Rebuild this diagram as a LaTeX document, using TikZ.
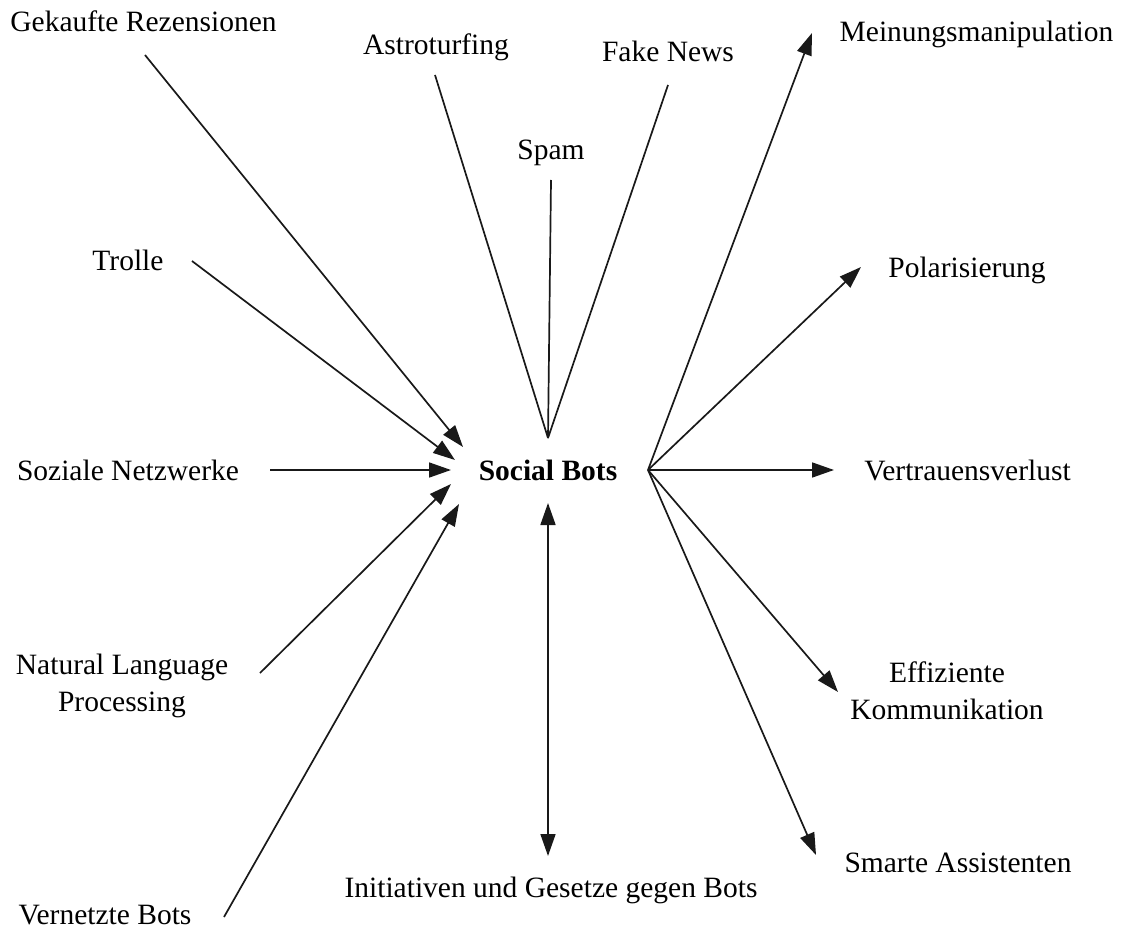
\documentclass[tikz,border=0pt]{standalone}
\usepackage{fontspec}
\setmainfont{Liberation Serif}
\usetikzlibrary{arrows.meta}
\begin{document}
\begin{tikzpicture}[x=1pt,y=-1pt,
  lbl/.style={inner sep=0pt, font=\fontsize{29.5}{37}\selectfont},
  ln/.style={line width=1.7pt, draw=black!90},
  arr/.style={ln, -{Triangle[length=22pt,width=15pt]}},
  darr/.style={ln, {Triangle[length=22pt,width=15pt]}-{Triangle[length=22pt,width=15pt]}}]
\useasboundingbox (0,0) rectangle (1131,933);
% labels
\node[lbl, anchor=base] (gk) at (143.5,32) {Gekaufte Rezensionen};
\node[lbl, anchor=base] (as) at (436,55) {Astroturfing};
\node[lbl, anchor=base] (fn) at (668,62) {Fake News};
\node[lbl, anchor=base] (sp) at (551,160) {Spam};
\node[lbl, anchor=base] (mm) at (976.5,42) {Meinungsmanipulation};
\node[lbl, anchor=base] (tr) at (128,270) {Trolle};
\node[lbl, anchor=base] (po) at (967,277) {Polarisierung};
\node[lbl, anchor=base] (sn) at (128,480) {Soziale Netzwerke};
\node[lbl, anchor=base, font=\fontsize{29.5}{37}\selectfont\bfseries] (sb) at (548,480) {Social Bots};
\node[lbl, anchor=base] (vv) at (967.5,480) {Vertrauensverlust};
\node[lbl, align=center] (nlp) at (122,686) {Natural Language\\Processing};
\node[lbl, align=center] (ek) at (947,691) {Effiziente\\Kommunikation};
\node[lbl, anchor=base] (sa) at (958,872) {Smarte Assistenten};
\node[lbl, anchor=base] (ig) at (551,897) {Initiativen und Gesetze gegen Bots};
\node[lbl, anchor=base] (vb) at (105,924) {Vernetzte Bots};
% connector end points
\coordinate (hubT) at (548,438);
\coordinate (hubR) at (648,470);
\coordinate (gkS) at (145,55);
\coordinate (gkE) at (463,447);
\coordinate (asS) at (435,75);
\coordinate (spS) at (551,180);
\coordinate (fnS) at (668,85);
\coordinate (trS) at (192,261);
\coordinate (trE) at (455,460);
\coordinate (snS) at (270,470);
\coordinate (snE) at (451,470);
\coordinate (nlpS) at (260,673);
\coordinate (nlpE) at (451,484);
\coordinate (vbS) at (224,917);
\coordinate (vbE) at (459,504);
\coordinate (igN) at (548,503);
\coordinate (igS) at (548,856);
\coordinate (mmE) at (812,33);
\coordinate (poE) at (861,267);
\coordinate (vvE) at (834,470);
\coordinate (ekE) at (838,692);
\coordinate (saE) at (816,855);
% connectors
\draw[arr] (gkS) -- (gkE);
\draw[ln] (asS) -- (hubT);
\draw[ln] (spS) -- (hubT);
\draw[ln] (fnS) -- (hubT);
\draw[arr] (trS) -- (trE);
\draw[arr] (snS) -- (snE);
\draw[arr] (nlpS) -- (nlpE);
\draw[arr] (vbS) -- (vbE);
\draw[darr] (igN) -- (igS);
\draw[arr] (hubR) -- (mmE);
\draw[arr] (hubR) -- (poE);
\draw[arr] (hubR) -- (vvE);
\draw[arr] (hubR) -- (ekE);
\draw[arr] (hubR) -- (saE);
\end{tikzpicture}
\end{document}
